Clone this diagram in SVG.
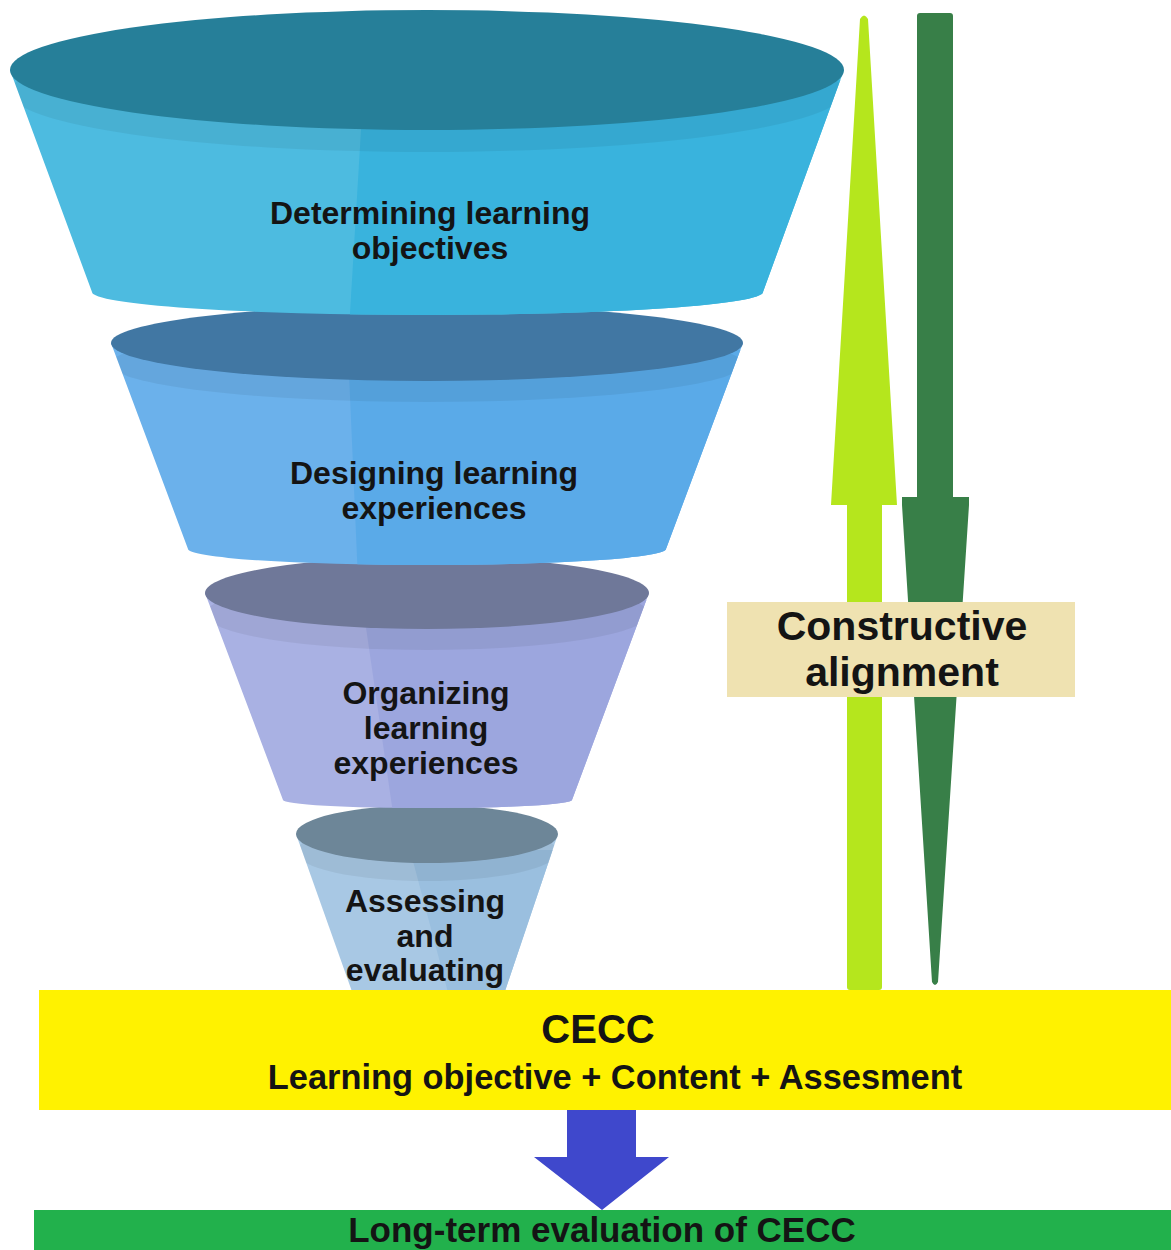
<svg xmlns="http://www.w3.org/2000/svg" width="1171" height="1250" viewBox="0 0 1171 1250">
<style>
.t{font-family:"Liberation Sans",Arial,sans-serif;font-weight:bold;fill:#141414;text-anchor:middle}
.f{font-size:32px}
.band{fill:#000;opacity:0.06}
</style>
<defs>
<clipPath id="c1"><path d="M10,70 L92,292 A335.5,23 0 0 0 763,292 L844,70 Z"/></clipPath>
<clipPath id="c2"><path d="M111,343 L188,549 A239,16 0 0 0 666,549 L743,343 Z"/></clipPath>
<clipPath id="c3"><path d="M205,593 L283,800 A144.5,8 0 0 0 572,800 L649,593 Z"/></clipPath>
<clipPath id="c4"><path d="M296,834 L355,1000 L502,1000 L558,834 Z"/></clipPath>
</defs>
<rect width="1171" height="1250" fill="#fff"/>

<g id="funnel4">
<path d="M296,834 L355,1000 L502,1000 L558,834 Z" fill="#a8c8e4"/>
<g clip-path="url(#c4)">
<path d="M410,850 L560,850 L560,1000 L450,1000 Z" fill="#9abfdf"/>
<ellipse cx="427" cy="852" rx="131" ry="29" class="band"/>
</g>
<ellipse cx="427" cy="834" rx="131" ry="29" fill="#6d8698"/>
<text class="t f" x="425" y="912">Assessing</text>
<text class="t f" x="425" y="947">and</text>
<text class="t f" x="425" y="981">evaluating</text>
</g>

<g id="funnel3">
<path d="M205,593 L283,800 A144.5,8 0 0 0 572,800 L649,593 Z" fill="#a9b1e3"/>
<g clip-path="url(#c3)">
<path d="M362,600 L660,600 L660,820 L394,820 Z" fill="#9ca6de"/>
<ellipse cx="427" cy="614" rx="222" ry="36" class="band"/>
</g>
<ellipse cx="427" cy="593" rx="222" ry="36" fill="#6f7899"/>
<text class="t f" x="426" y="704">Organizing</text>
<text class="t f" x="426" y="739">learning</text>
<text class="t f" x="426" y="774">experiences</text>
</g>

<g id="funnel2">
<path d="M111,343 L188,549 A239,16 0 0 0 666,549 L743,343 Z" fill="#6bb1eb"/>
<g clip-path="url(#c2)">
<path d="M348,350 L750,350 L750,580 L358,580 Z" fill="#5aaae8"/>
<ellipse cx="427" cy="364" rx="316" ry="38" class="band"/>
</g>
<ellipse cx="427" cy="343" rx="316" ry="38" fill="#4177a3"/>
<text class="t f" x="434" y="484">Designing learning</text>
<text class="t f" x="434" y="519">experiences</text>
</g>

<g id="funnel1">
<path d="M10,70 L92,292 A335.5,23 0 0 0 763,292 L844,70 Z" fill="#4dbbe0"/>
<g clip-path="url(#c1)">
<path d="M364,80 L850,80 L850,330 L349,330 Z" fill="#39b3dd"/>
<ellipse cx="427" cy="92" rx="417" ry="60" class="band"/>
</g>
<ellipse cx="427" cy="70" rx="417" ry="60" fill="#267f99"/>
<text class="t f" x="430" y="224">Determining learning</text>
<text class="t f" x="430" y="259">objectives</text>
</g>

<g id="connectors">
<path id="arrow-up" d="M847,987 Q847,990 850,990 L879,990 Q882,990 882,987 L882,505 L897,505 L868,19 Q864,12 860,19 L831,505 L847,505 Z" fill="#b5e61d"/>
<path id="arrow-down" d="M920,13 L950,13 Q953,13 953,16 L953,497 L969,497 L969,505 L938,982 Q935,988 932,982 L902,505 L902,497 L917,497 L917,16 Q917,13 920,13 Z" fill="#387f48"/>
<path id="arrow-blue" d="M567,1110 L636,1110 L636,1157 L669,1157 L602,1210 L534,1157 L567,1157 Z" fill="#3f48cc"/>
</g>

<g id="constructive">
<rect x="727" y="602" width="348" height="95" fill="#efe2b1"/>
<text class="t" x="902" y="640" font-size="41">Constructive</text>
<text class="t" x="902" y="686" font-size="41">alignment</text>
</g>

<g id="cecc">
<rect x="39" y="990" width="1132" height="120" fill="#fff200"/>
<text class="t" x="598" y="1043" font-size="40">CECC</text>
<text class="t" x="615" y="1089" font-size="34.4">Learning objective + Content + Assesment</text>
</g>

<g id="longterm">
<rect x="34" y="1210" width="1137" height="40" fill="#22b14c"/>
<text class="t" x="602" y="1242" font-size="35">Long-term evaluation of CECC</text>
</g>
</svg>
